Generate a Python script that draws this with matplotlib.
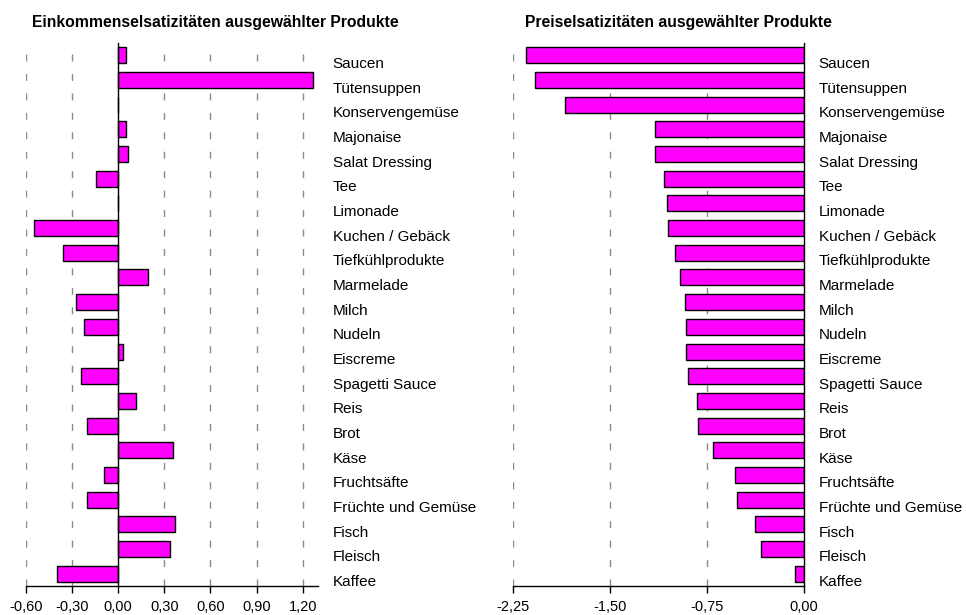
import numpy as np
import matplotlib
matplotlib.use("Agg")
import matplotlib.pyplot as plt
from matplotlib.transforms import ScaledTranslation

plt.rcParams['font.family'] = ['Liberation Sans', 'DejaVu Sans']

categories = ["Saucen", "Tütensuppen", "Konservengemüse", "Majonaise", "Salat Dressing",
              "Tee", "Limonade", "Kuchen / Gebäck", "Tiefkühlprodukte", "Marmelade",
              "Milch", "Nudeln", "Eiscreme", "Spagetti Sauce", "Reis", "Brot", "Käse",
              "Fruchtsäfte", "Früchte und Gemüse", "Fisch", "Fleisch", "Kaffee"]

income_elasticity = [0.05, 1.27, 0.0, 0.05, 0.065, -0.145, 0.0, -0.55, -0.36, 0.195,
                     -0.275, -0.225, 0.03, -0.24, 0.115, -0.205, 0.355, -0.09, -0.20,
                     0.37, 0.335, -0.40]

price_elasticity = [-2.15, -2.08, -1.85, -1.15, -1.15, -1.08, -1.06, -1.05, -1.00, -0.96,
                    -0.92, -0.91, -0.91, -0.90, -0.83, -0.82, -0.70, -0.53, -0.52,
                    -0.38, -0.33, -0.07]

income_ticks = [-0.60, -0.30, 0.00, 0.30, 0.60, 0.90, 1.20]
price_ticks = [-2.25, -1.50, -0.75, 0.00]

title_income = "Einkommenselsatizitäten ausgewählter Produkte"
title_price = "Preiselsatizitäten ausgewählter Produkte"

fig = plt.figure(figsize=(9.66, 6.15), dpi=100)
ax1 = fig.add_axes([26/966, 29/615, 292/966, 543/615])
ax2 = fig.add_axes([513/966, 29/615, 291/966, 543/615])

def fmt(v):
    return f"{v:.2f}".replace('.', ',')

def style(ax, values, ticks, xlim, title, title_x):
    y = np.arange(len(categories))
    ax.barh(y, values, height=0.65, color='#FF00FF', edgecolor='black', linewidth=1.0, zorder=3)
    ax.set_ylim(len(categories) - 0.5, -0.5)
    ax.set_xlim(*xlim)
    ax.set_xticks(ticks)
    ax.set_xticklabels([fmt(t) for t in ticks], fontsize=10.5)
    ax.tick_params(axis='x', direction='out', length=5, width=1, color='black', pad=5)
    ax.set_yticks(y)
    ax.set_yticklabels(categories, fontsize=11)
    ax.yaxis.tick_right()
    ax.tick_params(axis='y', length=0, pad=10.5)
    off = ScaledTranslation(0, -7/100, fig.dpi_scale_trans)
    for lab in ax.get_yticklabels():
        lab.set_transform(lab.get_transform() + off)
    for s in ['top', 'left', 'right']:
        ax.spines[s].set_visible(False)
    ax.spines['bottom'].set_linewidth(1)
    for t in ticks:
        if t != 0:
            ax.axvline(t, color='#8a8a8a', linewidth=1, linestyle=(0, (5, 9)), zorder=1)
    ax.axvline(0, color='black', linewidth=1, zorder=4, clip_on=False)
    fig.text(title_x, 1 - 23/615, title, fontsize=11.3, fontweight='bold', ha='left', va='center')

style(ax1, income_elasticity, income_ticks, (-0.60, 1.30), title_income, 32/966)
style(ax2, price_elasticity, price_ticks, (-2.25, 0.0), title_price, 525/966)

fig.savefig("out.png", dpi=100)
